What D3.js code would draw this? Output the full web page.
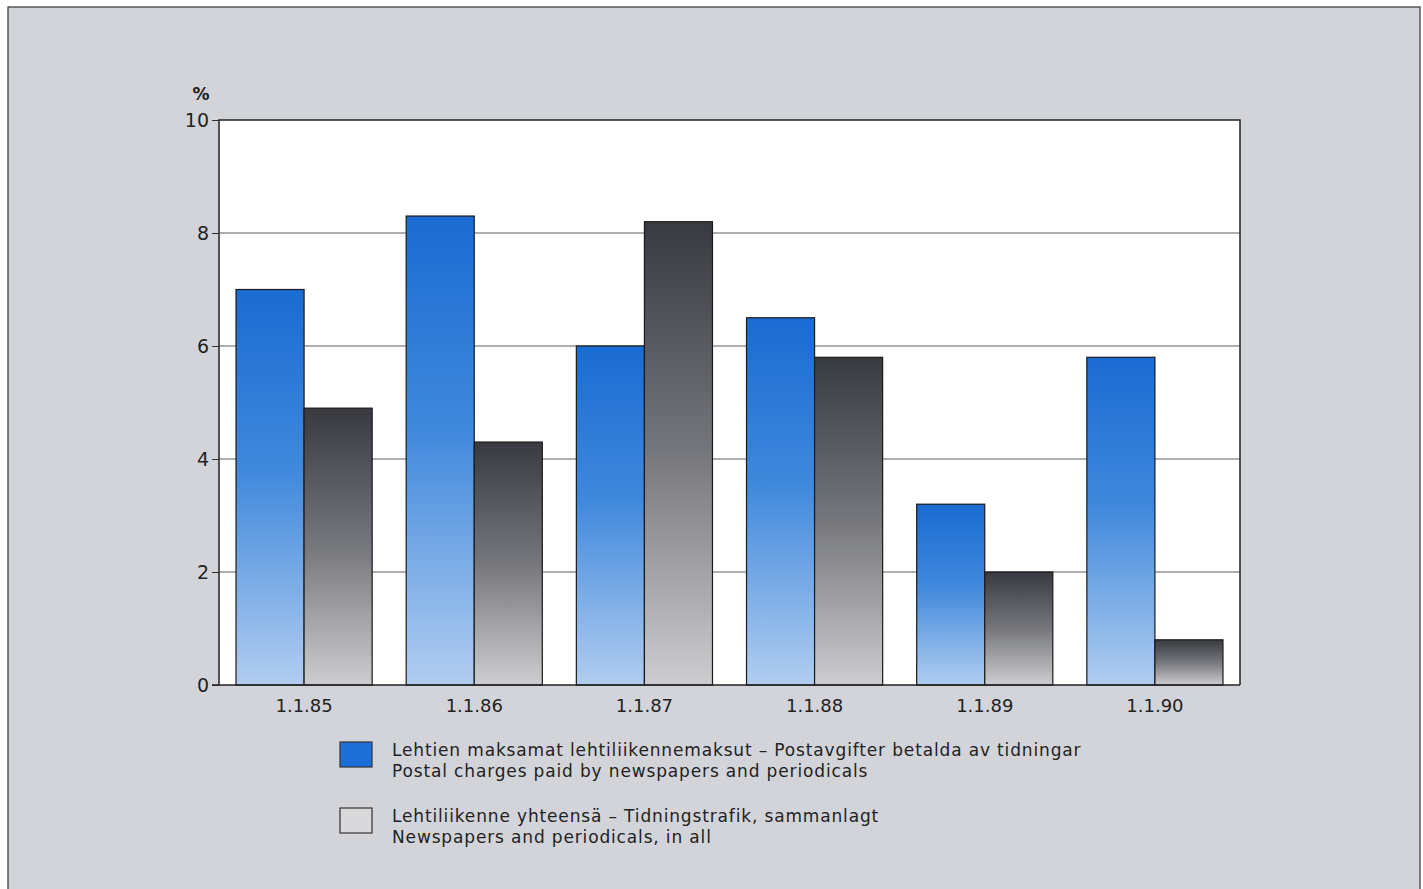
<!DOCTYPE html>
<html><head><meta charset="utf-8">
<script src="https://cdn.jsdelivr.net/npm/d3@7"></script>
<style>body{margin:0;background:#fff}svg{display:block}</style>
</head><body>
<svg id="c" width="1423" height="889"></svg>
<script>
const categories = ["1.1.85","1.1.86","1.1.87","1.1.88","1.1.89","1.1.90"];
const seriesNames = ["paid","total"];
const paidValues = [7.0, 8.3, 6.0, 6.5, 3.2, 5.8];
const totalValues = [4.9, 4.3, 8.2, 5.8, 2.0, 0.8];
const yTicks = [0, 2, 4, 6, 8, 10];
const legendLines = [
  ["Lehtien maksamat lehtiliikennemaksut \u2013 Postavgifter betalda av tidningar", "Postal charges paid by newspapers and periodicals"],
  ["Lehtiliikenne yhteensä \u2013 Tidningstrafik, sammanlagt", "Newspapers and periodicals, in all"]
];

const svg = d3.select("#c");
const font = "DejaVu Sans, sans-serif";
svg.append("rect").attr("x",8).attr("y",7).attr("width",1412).attr("height",890)
  .attr("fill","#d3d4d9").attr("stroke","#333").attr("stroke-width",1.2);

const defs = svg.append("defs");
const gb = defs.append("linearGradient").attr("id","gBlue").attr("x1",0).attr("y1",0).attr("x2",0).attr("y2",1);
gb.append("stop").attr("offset","0%").attr("stop-color","#1a6bd3");
gb.append("stop").attr("offset","45%").attr("stop-color","#3f88dc");
gb.append("stop").attr("offset","100%").attr("stop-color","#b1cdf0");
const gg = defs.append("linearGradient").attr("id","gGray").attr("x1",0).attr("y1",0).attr("x2",0).attr("y2",1);
gg.append("stop").attr("offset","0%").attr("stop-color","#393a40");
gg.append("stop").attr("offset","50%").attr("stop-color","#76777c");
gg.append("stop").attr("offset","100%").attr("stop-color","#cdcdcf");

const L=219, R=1240, T=120, B=685;
const x = d3.scaleBand().domain(categories).range([L,R]).paddingInner(0.2).paddingOuter(0.1);
const xs = d3.scaleBand().domain(seriesNames).range([0,x.bandwidth()]);
const y = d3.scaleLinear().domain([0,10]).range([B,T]);

svg.append("rect").attr("x",L).attr("y",T).attr("width",R-L).attr("height",B-T).attr("fill","#fff");

// grid
svg.append("g").selectAll("line").data(yTicks.filter(d=>d>0&&d<10)).join("line")
  .attr("x1",L).attr("x2",R).attr("y1",d=>y(d)).attr("y2",d=>y(d))
  .attr("stroke","#5e5e5e").attr("stroke-width",1);

const data = categories.map((c,i)=>({c, vals:[{k:"paid",v:paidValues[i]},{k:"total",v:totalValues[i]}]}));
const g = svg.append("g").selectAll("g").data(data).join("g").attr("transform",d=>`translate(${x(d.c)},0)`);
g.selectAll("rect").data(d=>d.vals).join("rect")
  .attr("x",d=>xs(d.k)).attr("width",xs.bandwidth())
  .attr("y",d=>y(d.v)).attr("height",d=>B-y(d.v))
  .attr("fill",d=>d.k==="paid"?"url(#gBlue)":"url(#gGray)")
  .attr("stroke","#1a1a1a").attr("stroke-width",1.2);

// frame
svg.append("path").attr("d",`M${L},${B}V${T}H${R}V${B}`).attr("fill","none").attr("stroke","#222").attr("stroke-width",1.5);

// y axis
const ya = svg.append("g").attr("transform",`translate(${L},0)`)
  .call(d3.axisLeft(y).tickValues(yTicks).tickSize(7).tickPadding(3).tickFormat(d3.format("d")));
ya.select(".domain").remove();
ya.selectAll("line").attr("stroke","#333");
ya.selectAll("text").attr("font-family",font).attr("font-size",19).attr("fill","#222");

// x axis
const xa = svg.append("g").attr("transform",`translate(0,${B})`)
  .call(d3.axisBottom(x).tickSize(0).tickPadding(14));
xa.select(".domain").attr("stroke","#222").attr("stroke-width",1.5).attr("d",`M${L-7},0H${R}`);
xa.selectAll("text").attr("font-family",font).attr("font-size",18).attr("fill","#222");

svg.append("text").attr("x",201).attr("y",100).attr("text-anchor","middle")
  .attr("font-family",font).attr("font-size",17).attr("font-weight","bold").attr("fill","#222").text("%");

// legend
const lg = svg.append("g");
const swY = [742, 808];
const fills = ["#1b6fd6","#d9d9dc"];
legendLines.forEach((lines,i)=>{
  lg.append("rect").attr("x",340).attr("y",swY[i]).attr("width",32).attr("height",25)
    .attr("fill",fills[i]).attr("stroke","#333").attr("stroke-width",1.2);
  lines.forEach((t,j)=>{
    lg.append("text").attr("x",392).attr("y",swY[i]+14+j*21).attr("font-family",font)
      .attr("font-size",17).attr("letter-spacing",0.85).attr("fill","#222").text(t);
  });
});
</script>
</body></html>
